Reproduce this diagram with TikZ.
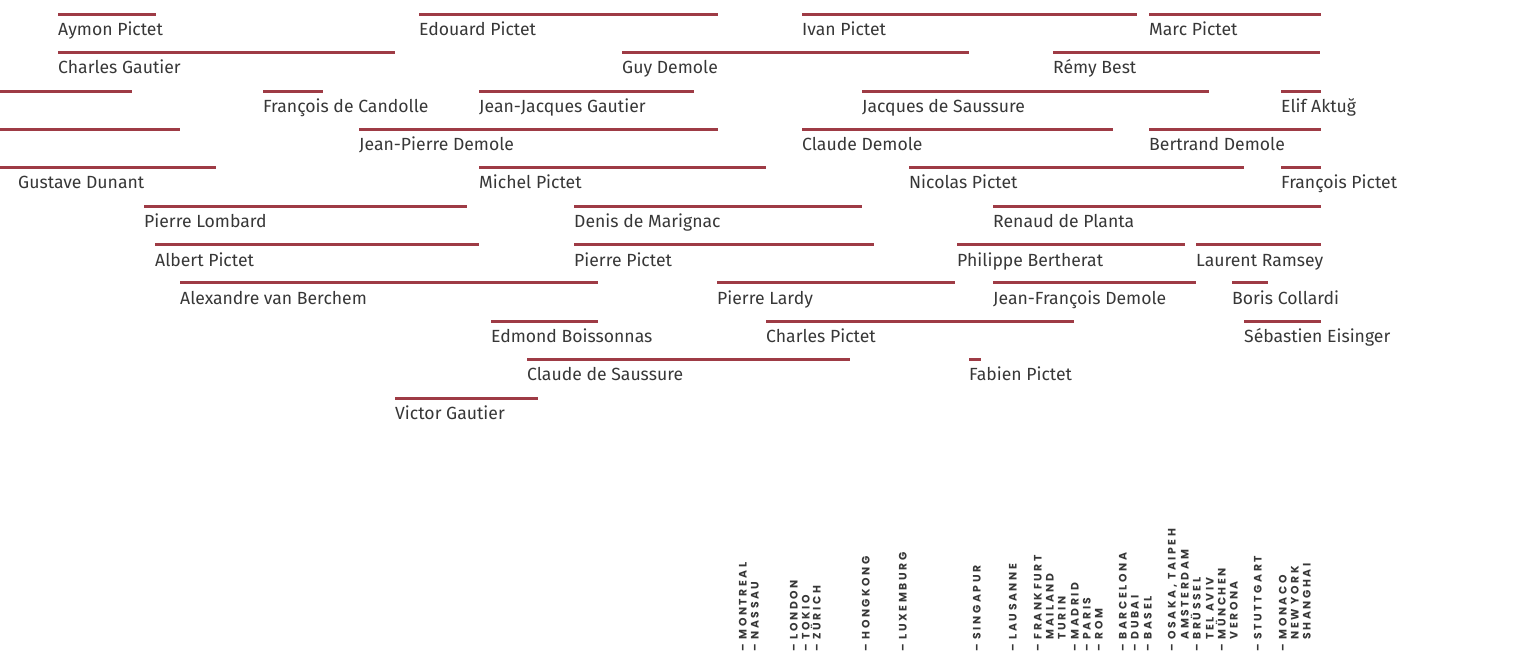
\documentclass[tikz,border=0pt]{standalone}
\usepackage{fontspec}
\usepackage{tikz}
\newfontfamily\partnerfont{Fira Sans}
\newfontfamily\cityfont{Poppins}[LetterSpace=24]
\definecolor{barred}{RGB}{158,59,69}
\definecolor{txtgray}{RGB}{55,55,55}
\tikzstyle{period} = [draw = barred, line width = 3pt]
\tikzstyle{partner} = [anchor = base west, inner sep = 0pt, text = txtgray, font = \partnerfont\fontsize{17.6}{20}\selectfont]
\tikzstyle{city} = [rotate = 90, anchor = base west, inner sep = 0pt, text = txtgray, font = \cityfont\bfseries\fontsize{10.8}{11}\selectfont]
\newcommand{\tick}{\textendash\ }
\newcommand{\notick}{\phantom{\textendash\ }}

\begin{document}
\begin{tikzpicture}[x = 1pt, y = -1pt]
	\useasboundingbox (0,0) rectangle (1520,652);

	\draw [period] (58,15) -- (156,15);
	\node (aymon)[partner] at (58,36){Aymon Pictet};
	\draw [period] (419,15) -- (718,15);
	\node (edouard)[partner] at (419,36){Edouard Pictet};
	\draw [period] (802,15) -- (1137,15);
	\node (ivan)[partner] at (802,36){Ivan Pictet};
	\draw [period] (1149,15) -- (1321,15);
	\node (marc)[partner] at (1149,36){Marc Pictet};

	\draw [period] (58,53) -- (395,53);
	\node (charlesg)[partner] at (58,74){Charles Gautier};
	\draw [period] (622,53) -- (969,53);
	\node (guy)[partner] at (622,74){Guy Demole};
	\draw [period] (1053,53) -- (1320,53);
	\node (remy)[partner] at (1053,74){Rémy Best};

	\draw [period] (0,92) -- (132,92);
	\draw [period] (263,92) -- (323,92);
	\node (francoisc)[partner] at (263,113){François de Candolle};
	\draw [period] (479,92) -- (694,92);
	\node (jeanjacques)[partner] at (479,113){Jean-Jacques Gautier};
	\draw [period] (862,92) -- (1209,92);
	\node (jacques)[partner] at (862,113){Jacques de Saussure};
	\draw [period] (1281,92) -- (1321,92);
	\node (elif)[partner] at (1281,113){Elif Aktuğ};

	\draw [period] (0,130) -- (180,130);
	\draw [period] (359,130) -- (718,130);
	\node (jeanpierre)[partner] at (359,151){Jean-Pierre Demole};
	\draw [period] (802,130) -- (1113,130);
	\node (claudedm)[partner] at (802,151){Claude Demole};
	\draw [period] (1149,130) -- (1321,130);
	\node (bertrand)[partner] at (1149,151){Bertrand Demole};

	\draw [period] (0,168) -- (216,168);
	\node (gustave)[partner] at (18,189){Gustave Dunant};
	\draw [period] (479,168) -- (766,168);
	\node (michel)[partner] at (479,189){Michel Pictet};
	\draw [period] (909,168) -- (1244,168);
	\node (nicolas)[partner] at (909,189){Nicolas Pictet};
	\draw [period] (1281,168) -- (1321,168);
	\node (francoisp)[partner] at (1281,189){François Pictet};

	\draw [period] (144,207) -- (467,207);
	\node (lombard)[partner] at (144,228){Pierre Lombard};
	\draw [period] (574,207) -- (862,207);
	\node (denis)[partner] at (574,228){Denis de Marignac};
	\draw [period] (993,207) -- (1321,207);
	\node (renaud)[partner] at (993,228){Renaud de Planta};

	\draw [period] (155,245) -- (479,245);
	\node (albert)[partner] at (155,266){Albert Pictet};
	\draw [period] (574,245) -- (874,245);
	\node (pierrep)[partner] at (574,266){Pierre Pictet};
	\draw [period] (957,245) -- (1185,245);
	\node (philippe)[partner] at (957,266){Philippe Bertherat};
	\draw [period] (1196,245) -- (1321,245);
	\node (laurent)[partner] at (1196,266){Laurent Ramsey};

	\draw [period] (180,283) -- (598,283);
	\node (alexandre)[partner] at (180,304){Alexandre van Berchem};
	\draw [period] (717,283) -- (955,283);
	\node (lardy)[partner] at (717,304){Pierre Lardy};
	\draw [period] (993,283) -- (1196,283);
	\node (jeanfrancois)[partner] at (993,304){Jean-François Demole};
	\draw [period] (1232,283) -- (1268,283);
	\node (boris)[partner] at (1232,304){Boris Collardi};

	\draw [period] (491,321) -- (598,321);
	\node (edmond)[partner] at (491,342){Edmond Boissonnas};
	\draw [period] (766,321) -- (1074,321);
	\node (charlesp)[partner] at (766,342){Charles Pictet};
	\draw [period] (1244,321) -- (1321,321);
	\node (sebastien)[partner] at (1244,342){Sébastien Eisinger};

	\draw [period] (527,359) -- (850,359);
	\node (claudes)[partner] at (527,380){Claude de Saussure};
	\draw [period] (969,359) -- (981,359);
	\node (fabien)[partner] at (969,380){Fabien Pictet};

	\draw [period] (395,398) -- (538,398);
	\node (victor)[partner] at (395,419){Victor Gautier};

	\node (montreal)[city] at (746.5,652){\tick MONTREAL};
	\node (nassau)[city] at (758.5,652){\tick NASSAU};
	\node (london)[city] at (797.5,652){\tick LONDON};
	\node (tokio)[city] at (809.5,652){\tick TOKIO};
	\node (zurich)[city] at (820.5,652){\tick ZÜRICH};
	\node (hongkong)[city] at (869.5,652){\tick HONGKONG};
	\node (luxemburg)[city] at (906.5,652){\tick LUXEMBURG};
	\node (singapur)[city] at (980.5,652){\tick SINGAPUR};
	\node (lausanne)[city] at (1016.5,652){\tick LAUSANNE};
	\node (frankfurt)[city] at (1041.5,652){\tick FRANKFURT};
	\node (mailand)[city] at (1053.5,652){\notick MAILAND};
	\node (turin)[city] at (1065.5,652){\notick TURIN};
	\node (madrid)[city] at (1078.5,652){\tick MADRID};
	\node (paris)[city] at (1090.5,652){\tick PARIS};
	\node (rom)[city] at (1102.5,652){\tick ROM};
	\node (barcelona)[city] at (1126.5,652){\tick BARCELONA};
	\node (dubai)[city] at (1138.5,652){\tick DUBAI};
	\node (basel)[city] at (1151.5,652){\tick BASEL};
	\node (osaka)[city] at (1175.5,652){\tick OSAKA, TAIPEH};
	\node (amsterdam)[city] at (1188.5,652){\notick AMSTERDAM};
	\node (bruessel)[city] at (1200.5,652){\tick BRÜSSEL};
	\node (telaviv)[city] at (1213.5,652){\notick TEL AVIV};
	\node (muenchen)[city] at (1225.5,652){\tick MÜNCHEN};
	\node (verona)[city] at (1237.5,652){\notick VERONA};
	\node (stuttgart)[city] at (1261.5,652){\tick STUTTGART};
	\node (monaco)[city] at (1286.5,652){\tick MONACO};
	\node (newyork)[city] at (1298.5,652){\notick NEW YORK};
	\node (shanghai)[city] at (1310.5,652){\notick SHANGHAI};
\end{tikzpicture}
\end{document}
